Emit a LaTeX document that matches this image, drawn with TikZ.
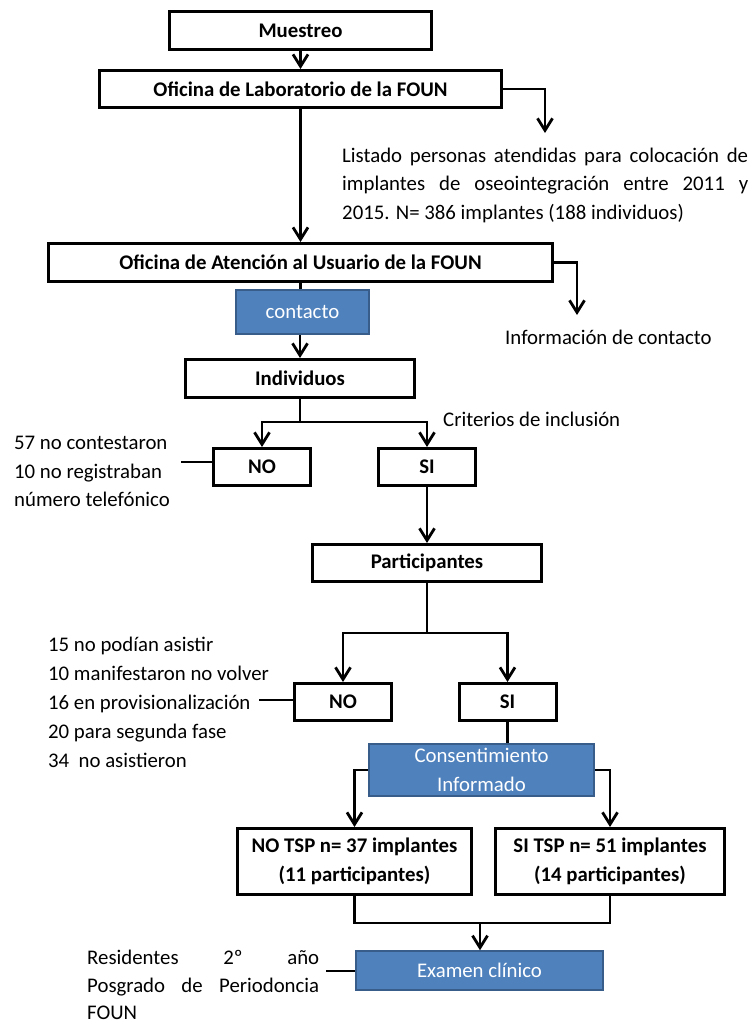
\documentclass[tikz,border=0pt]{standalone}
\usepackage{fontspec}
\setmainfont{Carlito}
\usetikzlibrary{arrows.meta}
\definecolor{ofblue}{RGB}{79,129,189}
\definecolor{ofbluedk}{RGB}{56,93,138}
\begin{document}
\begin{tikzpicture}[x=1pt,y=-1pt,
  every node/.style={font=\fontsize{20.8}{29}\selectfont, inner sep=0pt},
  blk/.style={draw=black, line width=3pt, font=\bfseries\fontsize{20.8}{29}\selectfont, align=center},
  bluebox/.style={draw=ofbluedk, fill=ofblue, line width=1.5pt, text=white, align=center},
  ln/.style={line width=2.8pt},
  arr/.style={ln, -{Straight Barb[length=12pt,width=15pt]}},
  txt/.style={anchor=base west}]
\useasboundingbox (0,0) rectangle (751,1025);

% boxes
\node[blk, minimum width=262pt, minimum height=38pt] (mu) at (300.5,31) {Muestreo};
\node[blk, minimum width=402pt, minimum height=37pt] (lab) at (300.5,89) {Oficina de Laboratorio de la FOUN};
\node[blk, minimum width=504pt, minimum height=38pt] (aten) at (300.5,262.5) {Oficina de Atención al Usuario de la FOUN};
\node[bluebox, minimum width=133pt, minimum height=44pt] (cont) at (302.5,312) {contacto};
\node[blk, minimum width=229pt, minimum height=38pt] (ind) at (300,378.5) {Individuos};
\node[blk, minimum width=97pt, minimum height=37pt] (no1) at (262,467) {NO};
\node[blk, minimum width=97pt, minimum height=37pt] (si1) at (427,467) {SI};
\node[blk, minimum width=229pt, minimum height=37pt] (part) at (427,563) {Participantes};
\node[blk, minimum width=97pt, minimum height=37pt] (no2) at (343,702) {NO};
\node[blk, minimum width=97pt, minimum height=37pt] (si2) at (507.5,702) {SI};
\node[bluebox, minimum width=225pt, minimum height=52pt] (cons) at (481.5,770) {Consentimiento\\Informado};
\node[blk, minimum width=234pt, minimum height=66pt] (notsp) at (354.5,861.5) {NO TSP n= 37 implantes\\(11 participantes)};
\node[blk, minimum width=229pt, minimum height=66pt] (sitsp) at (610,861.5) {SI TSP n= 51 implantes\\(14 participantes)};
\node[bluebox, minimum width=247pt, minimum height=39pt] (exam) at (479.5,970.5) {Examen clínico};

% free texts
\node[txt] (lst1) at (342,162) {\makebox[406pt][s]{Listado personas atendidas para colocación de}};
\node[txt] (lst2) at (342,190) {\makebox[406pt][s]{implantes de oseointegración entre 2011 y}};
\node[txt] (lst3) at (342,219) {2015. N= 386 implantes (188 individuos)};
\node[txt] (info) at (505,344) {Información de contacto};
\node[txt] (crit) at (443,426) {Criterios de inclusión};
\node[txt] (g1a) at (14,449) {57 no contestaron};
\node[txt] (g1b) at (14,478) {10 no registraban};
\node[txt] (g1c) at (14,506) {número telefónico};
\node[txt] (g2a) at (48,651) {15 no podían asistir};
\node[txt] (g2b) at (48,680) {10 manifestaron no volver};
\node[txt] (g2c) at (48,709) {16 en provisionalización};
\node[txt] (g2d) at (48,738) {20 para segunda fase};
\node[txt] (g2e) at (48,767) {34\ \ no asistieron};
\node[txt] (r1) at (87,964) {\makebox[232pt][s]{Residentes 2º año}};
\node[txt] (r2) at (87,992) {\makebox[232pt][s]{Posgrado de Periodoncia}};
\node[txt] (r3) at (87,1019) {FOUN};

% connectors
\draw[arr] (mu.south) -- (lab.north);
\coordinate (la) at (545,133);
\draw[arr] (lab.east) -| (la);
\draw[arr] (lab.south) -- (aten.north);
\coordinate (ia) at (577,315);
\draw[arr] (aten.east) -| (ia);
\draw[ln] (aten.south) -- (aten.south |- cont.north);
\draw[arr] (cont.south -| ind.north) -- (ind.north);
\coordinate (b1) at (300,422);
\draw[ln] (ind.south) -- (b1);
\draw[arr] (b1) -| (no1.north);
\draw[arr] (b1) -| (si1.north);
\coordinate (s1) at (181,462);
\draw[ln] (s1) -- (s1 -| no1.west);
\draw[arr] (si1.south) -- (part.north);
\coordinate (b2) at (427,633);
\draw[ln] (part.south) -- (b2);
\draw[arr] (b2) -| (no2.north);
\draw[arr] (b2) -| (si2.north);
\coordinate (s2) at (259,700);
\draw[ln] (s2) -- (s2 -| no2.west);
\draw[ln] (si2.south) -- (si2.south |- cons.north);
\draw[arr] (cons.west) -| (notsp.north);
\draw[arr] (cons.east) -| (sitsp.north);
\coordinate (m) at (480,923);
\draw[ln] (notsp.south) |- (m) -| (sitsp.south);
\draw[arr] (m) -- (m |- exam.north);
\coordinate (s3) at (326,971);
\draw[ln] (s3) -- (s3 -| exam.west);
\end{tikzpicture}
\end{document}
